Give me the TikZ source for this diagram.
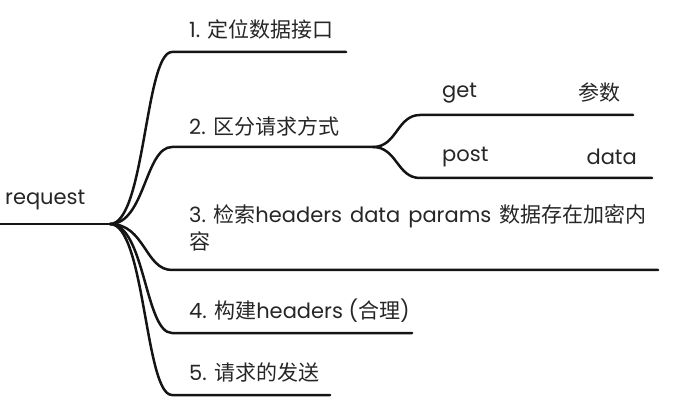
\documentclass[tikz,border=0pt]{standalone}
\usepackage{fontspec}
\setmainfont{Poppins}
\newfontfamily\cjk{Noto Sans CJK SC}
\newcommand{\gapsp}{\hspace{8pt}}
\begin{document}
\begin{tikzpicture}[x=1pt,y=-1pt,
  branch/.style={line width=2.5pt,color=black!92,line cap=round},
  lbl/.style={inner sep=0pt,anchor=west,font=\fontsize{21}{27}\selectfont,text=black!85},
  lble/.style={lbl,anchor=east}]
\useasboundingbox (0,0) rectangle (682,419);
% root
\node[lbl] (root) at (5,200) {request};
\coordinate (r0) at (0,224);
\coordinate (hub) at (110,224);
% branch ends
\coordinate (b1s) at (172,52);  \coordinate (b1e) at (346,52);
\coordinate (b2s) at (172,147); \coordinate (b2e) at (373,147);
\coordinate (b3s) at (172,270); \coordinate (b3e) at (658,270);
\coordinate (b4s) at (172,333); \coordinate (b4e) at (412,333);
\coordinate (b5s) at (172,395); \coordinate (b5e) at (330,395);
\coordinate (g1s) at (420,115); \coordinate (g1e) at (633,115);
\coordinate (p1s) at (420,178); \coordinate (p1e) at (652,178);
% labels
\node[lbl] (t1) at (189,29) {1. {\cjk 定位数据接口}};
\node[lbl] (t2) at (189,126) {2. {\cjk 区分请求方式}};
\node[lbl,align=left,anchor=north west] (t3) at (189,204) {3. {\cjk 检索}headers\gapsp data\gapsp params\gapsp{\cjk 数据存在加密内}\\{\cjk 容}};
\node[lbl] (t4) at (189,311) {4. {\cjk 构建}headers ({\cjk 合理})};
\node[lbl] (t5) at (189,373) {5. {\cjk 请求的发送}};
\node[lbl] (tg) at (442,93) {get};
\node[lble] (tgp) at (621,93) {\cjk 参数};
\node[lbl] (tp) at (442,157) {post};
\node[lble] (tpd) at (637,157) {data};
% connectors
\draw[branch] (r0) -- (hub);
\draw[branch] (hub) .. controls (145,224) and (145,52) .. (b1s) -- (b1e);
\draw[branch] (hub) .. controls (145,224) and (145,147) .. (b2s) -- (b2e);
\draw[branch] (hub) .. controls (145,224) and (145,270) .. (b3s) -- (b3e);
\draw[branch] (hub) .. controls (145,224) and (145,333) .. (b4s) -- (b4e);
\draw[branch] (hub) .. controls (145,224) and (145,395) .. (b5s) -- (b5e);
\draw[branch] (b2e) .. controls (397,147) and (397,115) .. (g1s) -- (g1e);
\draw[branch] (b2e) .. controls (397,147) and (397,178) .. (p1s) -- (p1e);
\end{tikzpicture}
\end{document}
